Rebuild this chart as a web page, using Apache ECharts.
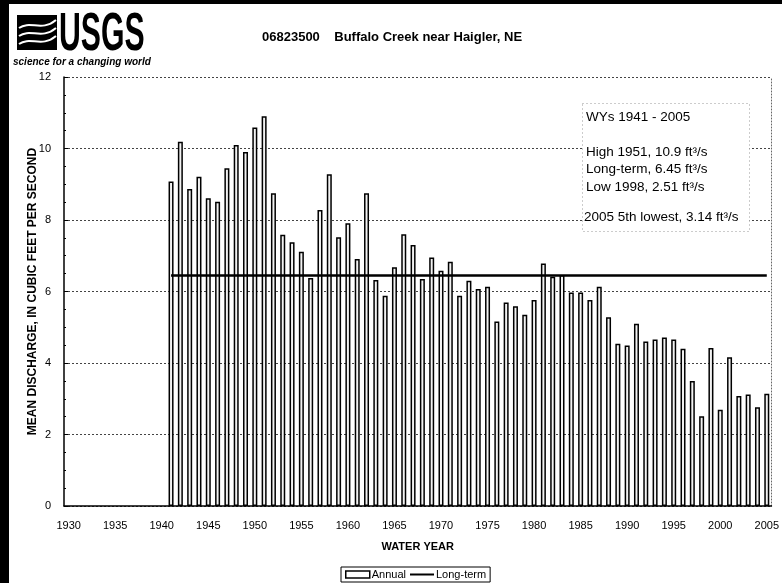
<!DOCTYPE html>
<html>
<head>
<meta charset="utf-8">
<script src="https://cdn.jsdelivr.net/npm/echarts@6/dist/echarts.min.js"></script>
<style>
html,body{margin:0;padding:0;background:#fff;}
#chart{width:782px;height:583px;}
</style>
</head>
<body>
<div id="chart"></div>
<script>
// ---- data ----
const years = [];
for (let y = 1930; y <= 2005; y++) years.push(String(y));

const annualStartYear = 1941;
const annualValues = [
  9.08, 10.19, 8.87, 9.21, 8.61, 8.51, 9.45, 10.10, 9.90, 10.59, // 1941-1950
  10.9, 8.75, 7.59, 7.38, 7.11, 6.38, 8.28, 9.28, 7.52, 7.91,    // 1951-1960
  6.91, 8.75, 6.32, 5.88, 6.68, 7.60, 7.30, 6.35, 6.95, 6.58,    // 1961-1970
  6.83, 5.88, 6.30, 6.07, 6.13, 5.16, 5.69, 5.59, 5.35, 5.76,    // 1971-1980
  6.78, 6.41, 6.46, 5.97, 5.97, 5.76, 6.13, 5.28, 4.54, 4.49,    // 1981-1990
  5.10, 4.60, 4.66, 4.71, 4.66, 4.40, 3.50, 2.51, 4.42, 2.69,    // 1991-2000
  4.16, 3.08, 3.12, 2.76, 3.14                                   // 2001-2005
];
const longTermValue = 6.45;
const yTicks = [0, 2, 4, 6, 8, 10, 12];
const noteLines = [
  'WYs 1941 - 2005',
  'High 1951, 10.9 ft\u00b3/s',
  'Long-term, 6.45 ft\u00b3/s',
  'Low 1998, 2.51 ft\u00b3/s',
  '2005 5th lowest, 3.14 ft\u00b3/s'
];

// ---- build series arrays ----
const offset = annualStartYear - 1930;
const annualSeries = years.map((y, i) => i >= offset ? annualValues[i - offset] : null);
const longTermSeries = years.map((y, i) => i >= offset ? longTermValue : null);

const FONT = 'Liberation Sans, Arial, Helvetica, sans-serif';
const NOTE_FONT = '13.5px "Liberation Sans", Arial, sans-serif';
const chart = echarts.init(document.getElementById('chart'));

const option = {
  animation: false,
  backgroundColor: '#fff',
  textStyle: { fontFamily: FONT, color: '#000' },
  grid: { left: 64, right: 7, top: 77, bottom: 77, containLabel: false },
  legend: {
    bottom: 1,
    left: 341,
    data: [
      { name: 'Annual', icon: 'rect', itemStyle: { color: '#fff', borderColor: '#000', borderWidth: 1.5 } },
      { name: 'Long-term', icon: 'path://M0,0 L24,0 L24,2 L0,2 Z', itemStyle: { color: '#000' } }
    ],
    itemWidth: 24,
    itemHeight: 7,
    itemGap: 4,
    padding: [2, 4, 2, 4],
    borderColor: '#000',
    borderWidth: 1,
    textStyle: { fontSize: 11, fontFamily: FONT, color: '#000', padding: [0, 0, 0, -3] }
  },
  xAxis: {
    type: 'category',
    data: years,
    name: 'WATER YEAR',
    nameLocation: 'middle',
    nameGap: 35,
    nameMoveOverlap: false,
    nameTextStyle: { fontWeight: 'bold', fontSize: 11, fontFamily: FONT, color: '#000' },
    axisLine: { lineStyle: { color: '#000', width: 1.5 } },
    axisTick: { show: false },
    axisLabel: { interval: 4, fontSize: 11, color: '#000', margin: 14, fontFamily: FONT },
    splitLine: { show: false }
  },
  yAxis: [{
    type: 'value',
    min: yTicks[0],
    max: yTicks[yTicks.length - 1],
    interval: 2,
    name: 'MEAN DISCHARGE, IN CUBIC FEET PER SECOND',
    nameLocation: 'middle',
    nameGap: 25,
    nameMoveOverlap: false,
    nameTextStyle: { fontWeight: 'bold', fontSize: 12, fontFamily: FONT, color: '#000' },
    axisLine: { show: true, lineStyle: { color: '#000', width: 1.5 } },
    axisTick: { show: true, inside: true, length: 4, lineStyle: { color: '#000' } },
    minorTick: { show: true, splitNumber: 4, length: 2, lineStyle: { color: '#000' } },
    axisLabel: { fontSize: 11, color: '#000', margin: 13, fontFamily: FONT },
    splitLine: { show: true, lineStyle: { color: '#444', width: 1, type: [2, 2] } }
  }, {
    type: 'value',
    position: 'right',
    min: 0, max: 12, interval: 2,
    axisLine: { show: true, lineStyle: { color: '#666', width: 1, type: [1, 2] } },
    axisTick: { show: false },
    axisLabel: { show: false },
    splitLine: { show: false }
  }],
  series: [
    {
      name: 'Annual',
      type: 'bar',
      data: annualSeries,
      barWidth: 5,
      itemStyle: { color: '#f2f2f2', borderColor: '#000', borderWidth: 1.5 },
      z: 2
    },
    {
      name: 'Long-term',
      type: 'line',
      data: longTermSeries,
      symbol: 'none',
      lineStyle: { color: '#000', width: 2.5 },
      itemStyle: { color: '#000' },
      z: 3
    }
  ],
  graphic: [
    // scanned black edges
    { type: 'rect', left: 0, top: 0, shape: { width: 9, height: 583 }, style: { fill: '#000' }, z: 100 },
    { type: 'rect', left: 0, top: 0, shape: { width: 782, height: 4 }, style: { fill: '#000' }, z: 100 },
    // USGS logo icon
    { type: 'rect', left: 17, top: 15, shape: { width: 40, height: 35 }, style: { fill: '#000' }, z: 100 },
    { type: 'bezierCurve', shape: { x1: 19, y1: 28, x2: 56, y2: 20, cpx1: 30, cpy1: 20, cpx2: 42, cpy2: 32 }, style: { stroke: '#fff', lineWidth: 2, fill: null }, z: 101 },
    { type: 'bezierCurve', shape: { x1: 19, y1: 36, x2: 56, y2: 28, cpx1: 30, cpy1: 28, cpx2: 42, cpy2: 40 }, style: { stroke: '#fff', lineWidth: 2, fill: null }, z: 101 },
    { type: 'bezierCurve', shape: { x1: 19, y1: 44, x2: 56, y2: 36, cpx1: 30, cpy1: 36, cpx2: 42, cpy2: 48 }, style: { stroke: '#fff', lineWidth: 2, fill: null }, z: 101 },
    {
      type: 'text', x: 59, y: 8, scaleX: 0.56,
      style: { text: 'USGS', font: 'bold 54px "Liberation Sans Narrow", "Liberation Sans", Arial, sans-serif', fill: '#000' }, z: 100
    },
    {
      type: 'text', left: 13, top: 57,
      style: { text: 'science for a changing world', font: 'italic bold 10px "Liberation Sans", Arial, sans-serif', fill: '#000' }, z: 100
    },
    // title
    {
      type: 'text', left: 262, top: 31,
      style: { text: '06823500    Buffalo Creek near Haigler, NE', font: 'bold 13px "Liberation Sans", Arial, sans-serif', fill: '#000' }, z: 100
    },
    // annotation box
    {
      type: 'rect', left: 582, top: 103, z: 50,
      shape: { width: 167, height: 128 },
      style: { fill: '#fff', stroke: '#999', lineWidth: 1, lineDash: [1, 3] }
    },
    { type: 'text', left: 586, top: 110, z: 51, style: { text: noteLines[0], font: NOTE_FONT, fill: '#000' } },
    { type: 'text', left: 586, top: 145, z: 51, style: { text: noteLines[1], font: NOTE_FONT, fill: '#000' } },
    { type: 'text', left: 586, top: 162, z: 51, style: { text: noteLines[2], font: NOTE_FONT, fill: '#000' } },
    { type: 'text', left: 586, top: 180, z: 51, style: { text: noteLines[3], font: NOTE_FONT, fill: '#000' } },
    { type: 'text', left: 584, top: 210, z: 51, style: { text: noteLines[4], font: NOTE_FONT, fill: '#000' } }
  ]
};
chart.setOption(option);
</script>
</body>
</html>
